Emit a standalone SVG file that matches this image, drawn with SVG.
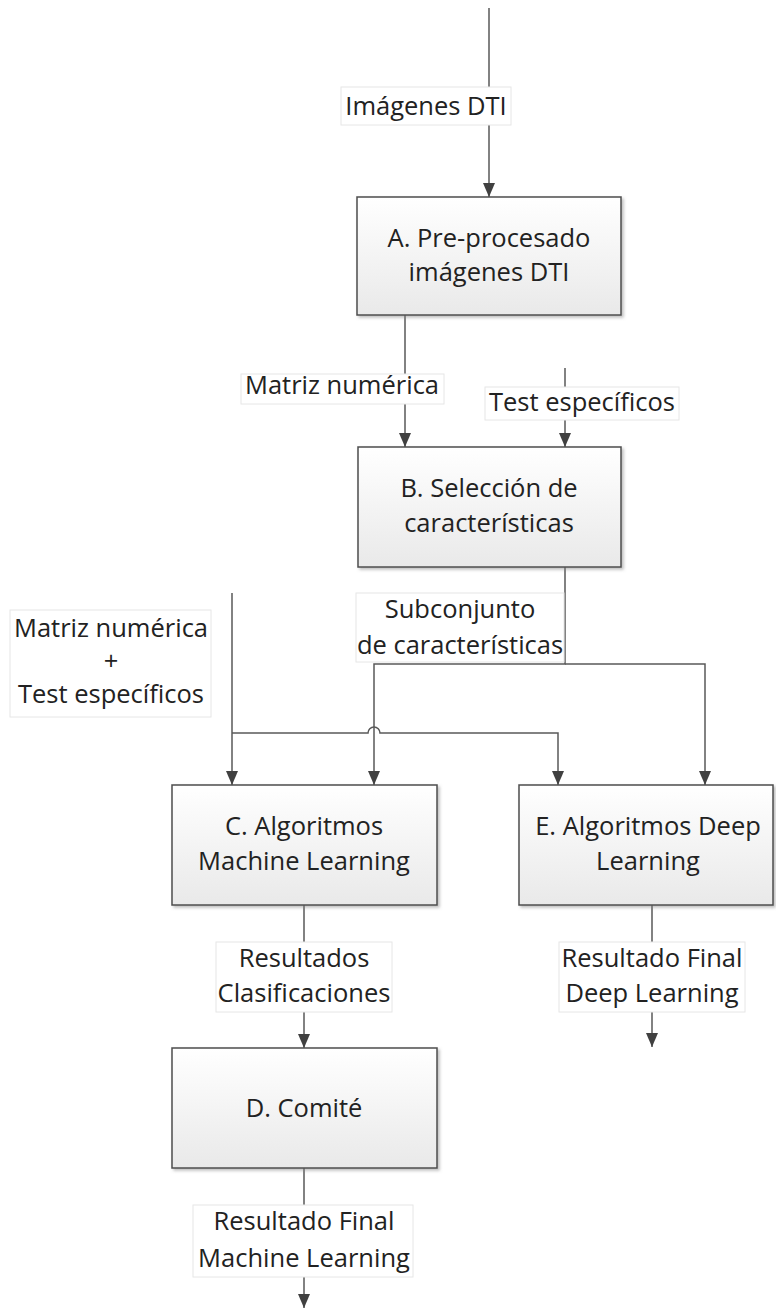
<svg xmlns="http://www.w3.org/2000/svg" width="776" height="1310" viewBox="0 0 776 1310">
<style>
.box{fill:url(#g);stroke:#4d4d4d;stroke-width:1.5;filter:url(#sh)}
.t{font-family:"Open Sans","Liberation Sans",sans-serif;font-size:25.5px;fill:#222;text-anchor:middle}
.lb{fill:#fff;stroke:#e6e6e6;stroke-width:1}
.c{fill:none;stroke:#595959;stroke-width:1.5}
.a{marker-end:url(#ar)}
</style>
<defs>
<linearGradient id="g" x1="0" y1="0" x2="0" y2="1">
<stop offset="0" stop-color="#ffffff"/>
<stop offset="1" stop-color="#e9e9e9"/>
</linearGradient>
<filter id="sh" x="-5%" y="-5%" width="115%" height="120%">
<feDropShadow dx="2" dy="2" stdDeviation="1.5" flood-color="#808080" flood-opacity="0.5"/>
</filter>
<marker id="ar" markerUnits="userSpaceOnUse" markerWidth="14" markerHeight="12" refX="14" refY="6" orient="auto">
<path d="M0,0 L14,6 L0,12 Z" fill="#404040"/>
</marker>
</defs>

<g id="connectors">
<path class="c a" d="M489,8 V197"/>
<path class="c a" d="M405,315 V447"/>
<path class="c a" d="M565,368 V447"/>
<path class="c a" d="M565,567 V664 H374 V785"/>
<path class="c a" d="M565,664 H705 V785"/>
<path class="c a" d="M232,593 V785"/>
<path class="c a" d="M232,733 H368 A6,6 0 0 1 380,733 H558 V785"/>
<path class="c a" d="M304,905 V1048"/>
<path class="c a" d="M304,1168 V1308"/>
<path class="c a" d="M652,905 V1047"/>
</g>

<g id="label-imagenes">
<rect class="lb" x="341" y="87" width="170" height="38"/>
<text class="t" x="426" y="115">Imágenes DTI</text>
</g>
<g id="label-matriz">
<rect class="lb" x="241" y="374" width="203" height="30"/>
<text class="t" x="342" y="394">Matriz numérica</text>
</g>
<g id="label-test">
<rect class="lb" x="485" y="387" width="194" height="33"/>
<text class="t" x="582" y="411">Test específicos</text>
</g>
<g id="label-subconjunto">
<rect class="lb" x="356" y="593" width="208" height="69"/>
<text class="t" x="460" y="618">Subconjunto</text>
<text class="t" x="460" y="654">de características</text>
</g>
<g id="label-entrada">
<rect class="lb" x="10" y="610" width="201" height="107"/>
<text class="t" x="111" y="637">Matriz numérica</text>
<text class="t" x="111" y="670">+</text>
<text class="t" x="111" y="703">Test específicos</text>
</g>
<g id="label-resultados">
<rect class="lb" x="216" y="942" width="176" height="70"/>
<text class="t" x="304" y="967">Resultados</text>
<text class="t" x="304" y="1002">Clasificaciones</text>
</g>
<g id="label-final-ml">
<rect class="lb" x="193" y="1205" width="220" height="72"/>
<text class="t" x="304" y="1230">Resultado Final</text>
<text class="t" x="304" y="1267">Machine Learning</text>
</g>
<g id="label-final-dl">
<rect class="lb" x="559" y="942" width="186" height="70"/>
<text class="t" x="652" y="967">Resultado Final</text>
<text class="t" x="652" y="1002">Deep Learning</text>
</g>

<g id="node-A">
<rect class="box" x="357" y="197" width="264" height="118"/>
<text class="t" x="489" y="247">A. Pre-procesado</text>
<text class="t" x="489" y="281">imágenes DTI</text>
</g>
<g id="node-B">
<rect class="box" x="358" y="447" width="263" height="120"/>
<text class="t" x="489" y="497">B. Selección de</text>
<text class="t" x="489" y="532">características</text>
</g>
<g id="node-C">
<rect class="box" x="172" y="785" width="265" height="120"/>
<text class="t" x="304" y="835">C. Algoritmos</text>
<text class="t" x="304" y="870">Machine Learning</text>
</g>
<g id="node-E">
<rect class="box" x="519" y="785" width="254" height="120"/>
<text class="t" x="648" y="835">E. Algoritmos Deep</text>
<text class="t" x="648" y="870">Learning</text>
</g>
<g id="node-D">
<rect class="box" x="172" y="1048" width="265" height="120"/>
<text class="t" x="304" y="1117">D. Comité</text>
</g>
</svg>
